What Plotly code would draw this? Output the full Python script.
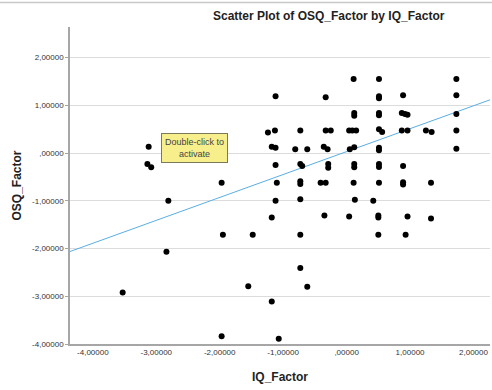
import plotly.graph_objects as go

# ---- data ----
iq_factor = [
    -3.12, -3.14, -3.08, -1.97, -2.81, -1.95, -1.48, -2.84, -1.55, -3.53, -1.97,
    -1.12, -0.73, 0.13, 0.42, -1.18, -0.35, 0.04, 0.50, 0.50, 0.96, 1.33,
    -0.73, 0.50, 0.93, -0.73, -0.62, -1.18, -1.07,
    0.11, 0.51, 1.73,
    -1.12, -0.33, 0.51, 0.51, 0.89, 1.73,
    0.12, 0.12, 0.51, 0.51, 0.87, 0.92, 0.96, 1.73,
    -1.24, -1.13, -0.73, -0.33, -0.25, 0.04, 0.09, 0.15, 0.51, 0.56, 0.87, 0.96, 1.25, 1.34, 1.73,
    -1.18, -1.12, -0.81, -0.62, -0.36, -0.30, 0.05, 0.12, 0.51, 0.51, 1.73,
    -1.12, -0.73, -0.70, -0.29, -0.29, 0.12, 0.12, 0.51, 0.51, 0.89,
    -1.10, -0.73, -0.73, -0.41, -0.33, 0.11, 0.51, 0.89, 0.89, 1.33,
]
osq_factor = [
    0.13, -0.23, -0.30, -0.62, -1.00, -1.71, -1.71, -2.07, -2.79, -2.92, -3.84,
    -1.00, -0.97, -0.98, -1.00, -1.35, -1.31, -1.33, -1.31, -1.35, -1.33, -1.37,
    -1.71, -1.71, -1.71, -2.41, -2.80, -3.11, -3.89,
    1.55, 1.55, 1.55,
    1.19, 1.17, 1.19, 1.15, 1.21, 1.21,
    0.84, 0.78, 0.84, 0.79, 0.84, 0.82, 0.80, 0.82,
    0.43, 0.47, 0.47, 0.47, 0.47, 0.47, 0.47, 0.47, 0.50, 0.44, 0.47, 0.47, 0.47, 0.44, 0.47,
    0.13, 0.11, 0.08, 0.08, 0.13, 0.08, 0.08, 0.12, 0.11, 0.06, 0.09,
    -0.25, -0.23, -0.27, -0.23, -0.31, -0.23, -0.30, -0.23, -0.29, -0.27,
    -0.62, -0.59, -0.65, -0.62, -0.62, -0.62, -0.62, -0.61, -0.66, -0.62,
]

fit_slope = 0.48
fit_intercept = 0.03

x_range = [-4.36, 2.26]
y_range = [-4.0, 2.64]

x_tickvals = [-4, -3, -2, -1, 0, 1, 2]
x_ticktext = ["-4,00000", "-3,00000", "-2,00000", "-1,00000", ",00000", "1,00000", "2,00000"]
y_tickvals = [-4, -3, -2, -1, 0, 1, 2]
y_ticktext = ["-4,00000", "-3,00000", "-2,00000", "-1,00000", ",00000", "1,00000", "2,00000"]

fit_x = x_range
fit_y = [fit_intercept + fit_slope * v for v in fit_x]

fig = go.Figure()
fig.add_trace(go.Scatter(
    x=fit_x, y=fit_y, mode="lines",
    line=dict(color="#5aaee6", width=1), hoverinfo="skip", showlegend=False,
))
fig.add_trace(go.Scatter(
    x=iq_factor, y=osq_factor, mode="markers",
    marker=dict(color="black", size=6), showlegend=False,
))

font_family = "Liberation Sans, Arial, sans-serif"

fig.update_layout(
    width=492, height=390,
    margin=dict(l=70, r=2, t=27, b=46, autoexpand=False),
    paper_bgcolor="white", plot_bgcolor="white",
    font=dict(family=font_family, color="#333333"),
    xaxis=dict(
        range=x_range, tickvals=x_tickvals, ticktext=x_ticktext,
        showgrid=False, zeroline=False, automargin=False,
        showline=True, linecolor="#a6a6a6", linewidth=1.5,
        ticks="", tickfont=dict(size=8, color="#333333"),
        title=dict(text="<b>IQ_Factor</b>", font=dict(size=12, color="#222222"), standoff=16),
    ),
    yaxis=dict(
        range=y_range, tickvals=y_tickvals, ticktext=y_ticktext,
        showgrid=True, gridcolor="#dcdcdc", gridwidth=1.2, zeroline=False, automargin=False,
        showline=True, linecolor="#a6a6a6", linewidth=1.5,
        ticks="outside", ticklen=3, tickcolor="#a6a6a6",
        tickfont=dict(size=8, color="#333333"),
        title=dict(text="<b>OSQ_Factor</b>", font=dict(size=12, color="#222222"), standoff=8),
    ),
    shapes=[dict(
        type="line", xref="paper", yref="paper",
        x0=-70 / 420, x1=422 / 420, y0=(344 - 2.5) / 317, y1=(344 - 2.5) / 317,
        line=dict(color="#c8c8c8", width=1.5),
    )],
    annotations=[
        dict(
            text="<b>Scatter Plot of OSQ_Factor by IQ_Factor</b>", xref="paper", yref="paper",
            x=0.617, y=(344 - 16) / 317, xanchor="center", yanchor="middle", showarrow=False,
            font=dict(size=12, color="#222222", family=font_family),
        ),
        dict(
            text="Double-click to<br>activate", xref="paper", yref="paper",
            x=0.297, y=0.617, xanchor="center", yanchor="middle", showarrow=False,
            font=dict(size=9, color="#444444", family=font_family),
            bgcolor="#f7ef8c", bordercolor="#7a7a5a", borderwidth=1, borderpad=3,
        ),
    ],
)

fig.write_html(
    "out.html",
    config={"displayModeBar": False},
    post_script="document.body.style.margin='0';document.body.style.overflow='hidden';",
)
